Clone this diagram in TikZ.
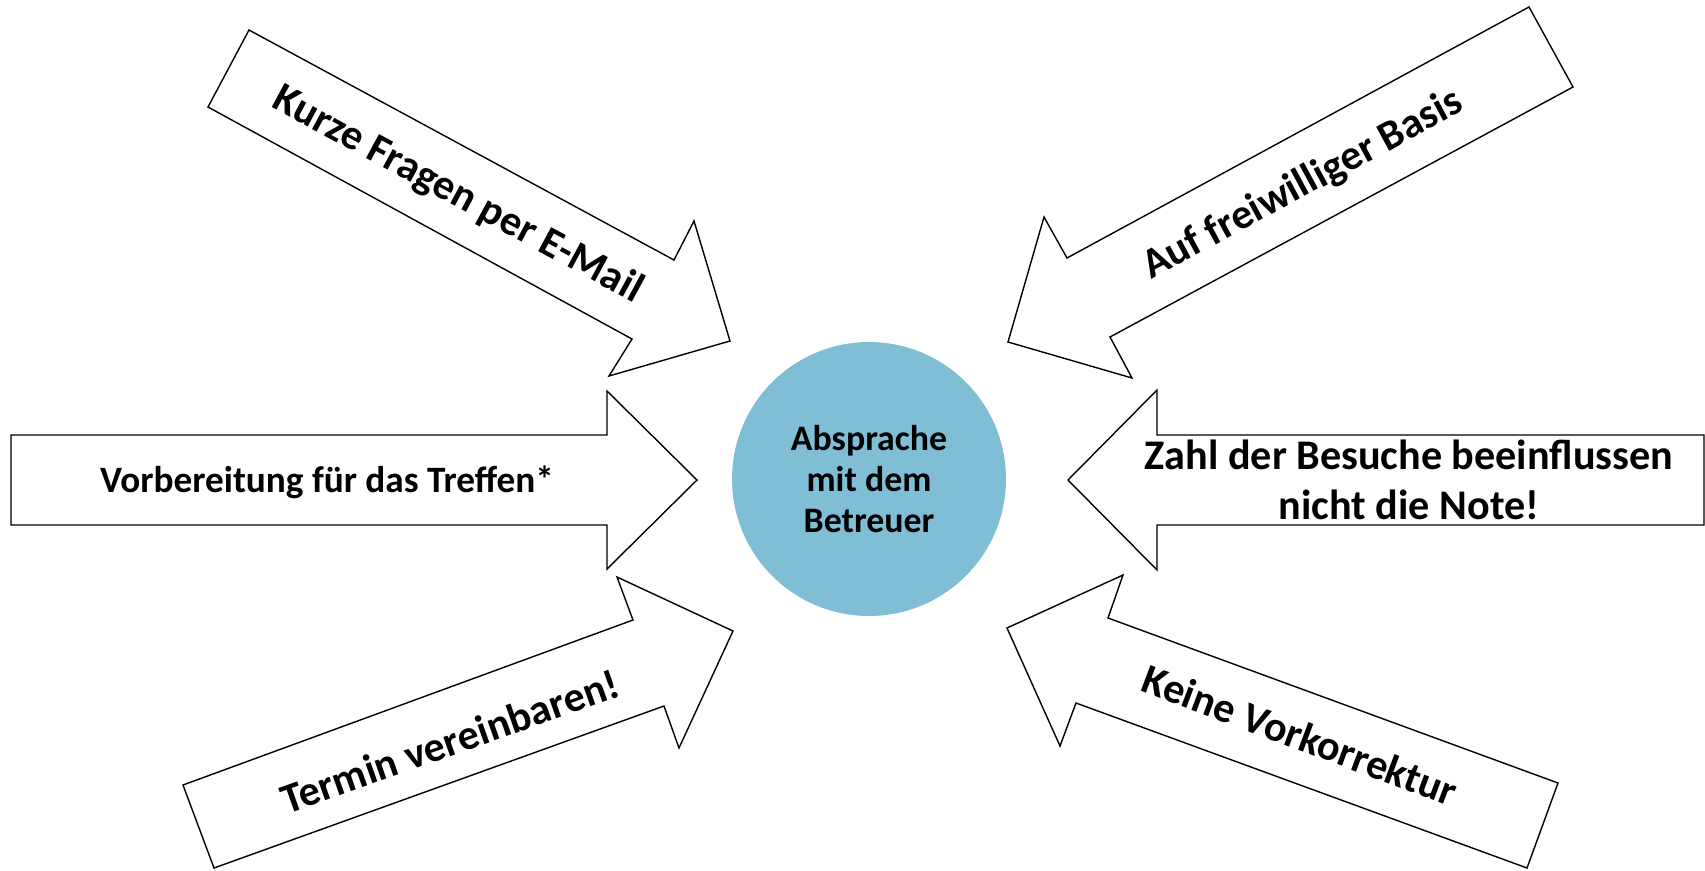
\documentclass[tikz,border=0pt]{standalone}
\usepackage{fontspec}
\setmainfont{Carlito}
\definecolor{kreisblau}{RGB}{128,190,214}
\tikzset{
  pfeil/.style={draw=black, line width=0.8pt, fill=white, line join=miter},
  gross/.style={font=\bfseries\fontsize{24}{28.3}\selectfont, align=center},
  mittel/.style={font=\bfseries\fontsize{20.4}{23.2}\selectfont, align=center}
}
\begin{document}
\begin{tikzpicture}[x=0.02cm, y=-0.02cm]
                \useasboundingbox (0, 0) rectangle (1705, 870);

                  % Kreis in der Mitte
                  \node[circle, fill=kreisblau, minimum size=5.48cm, inner sep=0pt, mittel] (absprache) at (869, 479) {Absprache\\mit dem\\Betreuer};

                  % oben links
                  \draw[pfeil] (249, 30) -- (674, 260) -- (694, 221) -- (730, 341) -- (609, 376) -- (632, 339) -- (208, 107) -- cycle;
                     \node[gross, rotate=-28.4] (email) at (458, 195) {Kurze Fragen per E-Mail};
                  % links
                  \draw[pfeil] (11, 435) -- (607, 435) -- (607, 391) -- (697, 480) -- (607, 569) -- (607, 525) -- (11, 525) -- cycle;
                     \node[mittel, font=\bfseries\fontsize{21.2}{24}\selectfont, anchor=base] (vorbereitung) at (327, 492) {Vorbereitung für das Treffen*};
                  % unten links
                  \draw[pfeil] (214, 868) -- (664, 706) -- (679, 748) -- (733, 631) -- (617, 577) -- (633, 620) -- (183, 785) -- cycle;
                     \node[gross, rotate=19.5] (termin) at (450, 741) {Termin vereinbaren!};

                  % oben rechts
                  \draw[pfeil] (1529, 7) -- (1067, 258) -- (1044, 217) -- (1008, 342) -- (1132, 378) -- (1110, 337) -- (1573, 87) -- cycle;
                     \node[gross, rotate=28.4] (basis) at (1303, 185) {Auf freiwilliger Basis};
                  % rechts
                  \draw[pfeil] (1704, 435) -- (1157, 435) -- (1157, 390) -- (1068, 480) -- (1157, 570) -- (1157, 525) -- (1704, 525) -- cycle;
                     \node[gross] (note) at (1409, 480) {Zahl der Besuche beeinflussen\\nicht die Note!};
                  % unten rechts
                  \draw[pfeil] (1527, 868) -- (1076, 703) -- (1060, 746) -- (1007, 628) -- (1123, 575) -- (1108, 618) -- (1558, 783) -- cycle;
                     \node[gross, rotate=-20.5] (vorkorrektur) at (1300, 735) {Keine Vorkorrektur};

\end{tikzpicture}
\end{document}
